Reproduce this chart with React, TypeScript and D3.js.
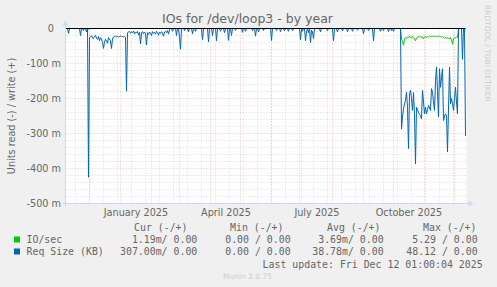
import React from "react";
import * as d3 from "d3";

// ---- time frame (Munin "by year": 400 days ending at last update) ----
const END = Date.UTC(2025, 11, 12, 1, 0, 4);
const DAY = 86400000;
const START = END - 400 * DAY;

// ---- series (daily values, milli-units, shown as read = negative) ----
const reqSizeRead = [
  0,0,14,0,0,0,0,0,0,0, 0,0,0,0,20,0,0,6,0,0,
  10,0,425,26,22,21,27,29,22,19, 28,31,23,35,26,30,40,57,38,31,
  36,42,26,30,35,57,30,24,23,22, 23,23,24,23,22,23,23,24,23,25,
  179,12,10,8,14,9,12,7,16,10, 13,8,18,11,44,12,9,15,10,14,
  47,12,17,10,13,20,9,14,11,16, 8,12,19,10,14,9,13,22,10,8,
  12,6,16,4,0,0,8,0,0,0, 20,0,0,25,59,0,0,0,6,0,
  0,0,10,0,0,0,15,0,0,8, 0,0,0,0,0,0,32,0,0,0,
  0,0,38,0,0,0,20,0,0,0, 35,0,0,0,8,0,0,0,12,0,
  0,0,34,0,0,20,0,0,0,6, 0,0,0,0,0,0,11,0,0,8,
  0,0,0,0,0,0,6,0,0,22, 0,0,10,0,0,0,0,6,0,0,
  0,0,0,0,0,34,0,0,0,0, 6,0,0,0,9,0,0,0,7,0,
  0,0,8,0,0,0,6,0,0,0, 0,0,0,0,32,0,8,0,0,35,
  10,0,12,0,40,5,10,29,0,0, 0,0,0,0,10,0,0,0,0,0,
  0,6,0,0,0,0,0,35,0,0, 0,10,0,0,0,0,7,0,0,0,
  0,9,0,0,0,0,8,0,0,0, 0,5,0,0,0,0,0,15,0,0,
  0,0,6,0,0,0,0,35,0,0, 0,0,0,0,8,0,0,6,0,0,
  0,0,9,0,0,6,0,8,0,0, 0,0,0,0,0,287,253,230,215,206,
  182,225,343,186,177,200,234,183,244,387, 225,232,240,245,249,258,177,210,244,225,
  244,232,220,227,234,172,182,210,234,149, 110,180,253,115,168,140,115,263,250,244,
  249,353,230,110,215,200,215,234,200,168, 210,244,0,0,0,0,88,0,0,307,
];

const ioRead = [
  0,0,0,0,0,0,0,0,0,0, 0,0,0,0,0,0,0,0,0,0,
  0,0,3,0,0,0,0,0,0,0, 0,0,0,0,0,0,0,0,0,0,
  0,0,0,0,0,0,0,0,0,0, 0,0,0,0,0,0,0,0,0,0,
  0,0,0,0,0,0,0,0,0,0, 0,0,0,0,0,0,0,0,0,0,
  0,0,0,0,0,0,0,0,0,0, 0,0,0,0,0,0,0,0,0,0,
  0,0,0,0,0,0,0,0,0,0, 0,0,0,0,0,0,0,0,0,0,
  0,0,0,0,0,0,0,0,0,0, 0,0,0,0,0,0,0,0,0,0,
  0,0,0,0,0,0,0,0,0,0, 0,0,0,0,0,0,0,0,0,0,
  0,0,0,0,0,0,0,0,0,0, 0,0,0,0,0,0,0,0,0,0,
  0,0,0,0,0,0,0,0,0,0, 0,0,0,0,0,0,0,0,0,0,
  0,0,0,0,0,0,0,0,0,0, 0,0,0,0,0,0,0,0,0,0,
  0,0,0,0,0,0,0,0,0,0, 0,0,0,0,0,0,0,0,0,0,
  0,0,0,0,0,0,0,0,0,0, 0,0,0,0,0,0,0,0,0,0,
  0,0,0,0,0,0,0,0,0,0, 0,0,0,0,0,0,0,0,0,0,
  0,0,0,0,0,0,0,0,0,0, 0,0,0,0,0,0,0,0,0,0,
  0,0,0,0,0,0,0,0,0,0, 0,0,0,0,0,0,0,0,0,0,
  0,0,0,0,0,0,0,0,0,0, 0,0,0,0,0,30,38,48,30,26,
  28,24,26,22,25,27,23,26,30,35, 28,24,22,25,23,26,24,30,25,22,
  26,23,24,22,23,23,22,23,22,23, 24,22,23,22,23,25,23,26,27,25,
  29,26,28,30,26,33,45,30,26,26, 25,25,0,0,0,0,0,0,0,1.19,
];

const yMajorTicks = [0, -100, -200, -300, -400, -500];
const xTickLabels = ["January 2025", "April 2025", "July 2025", "October 2025"];

const legendNames = ["IO/sec", "Req Size (KB)"];
const legendColors = ["#00CC00", "#0066B3"];
const legendHeaders = ["Cur (-/+)", "Min (-/+)", "Avg (-/+)", "Max (-/+)"];
const legendCur = ["1.19m/ 0.00", "307.00m/ 0.00"];
const legendMin = ["0.00 / 0.00", "0.00 / 0.00"];
const legendAvg = ["3.69m/ 0.00", "38.78m/ 0.00"];
const legendMax = ["5.29 / 0.00", "48.12 / 0.00"];

const TITLE = "IOs for /dev/loop3 - by year";
const Y_LABEL = "Units read (-) / write (+)";
const LAST_UPDATE = "Last update: Fri Dec 12 01:00:04 2025";

export default function App() {
  const W = 497;
  const H = 287;
  const x0 = 65.5, x1 = 465.5, yTop = 28.5, yBot = 203.5;
  const x = d3.scaleTime().domain([new Date(START), new Date(END)]).range([x0, x1]);
  const y = d3.scaleLinear().domain([-500, 0]).range([yBot, yTop]);

  const line = d3
    .line<number>()
    .x((_, i) => x(new Date(START + (i + 1) * DAY)))
    .y((d) => y(-d));

  const minorY = d3.range(0, -501, -20).filter((v) => v % 100 !== 0);
  const monthStarts = d3.utcMonth.range(new Date(START), new Date(END));
  const quarterStarts = d3.utcMonth.every(3)!.range(new Date(START), new Date(END));
  // bi-weekly Sunday minor grid
  const refSunday = Date.UTC(2025, 9, 5);
  const minorX: number[] = [];
  for (let t = refSunday; t > START; t -= 14 * DAY) minorX.push(t);
  for (let t = refSunday + 14 * DAY; t < END; t += 14 * DAY) minorX.push(t);

  const gridMinor = "rgba(143,143,143,0.32)";
  const gridMajor = "rgba(233,90,90,0.38)";
  const axisCol = "#CFD6F8";
  const font = "'DejaVu Sans', sans-serif";
  const mono = "'DejaVu Sans Mono', monospace";
  const textCol = "#666666";

  const valueEnds = [197.3, 290.6, 383.6, 477.6];
  const headerStarts = [134, 230, 327, 423];

  return (
    <svg
      width={W}
      height={H}
      style={{ position: "absolute", left: 0, top: 0, display: "block" }}
      xmlSpace="preserve"
    >
      <rect x={0} y={0} width={W} height={H} fill="#F0F0F0" />
      <rect x={x0} y={yTop - 0.5} width={x1 - x0 + 1} height={yBot - yTop} fill="#FFFFFF" />

      {/* minor grid */}
      {minorY.map((v) => (
        <line key={"my" + v} x1={x0} x2={x1 + 2} y1={y(v)} y2={y(v)} stroke={gridMinor} strokeDasharray="1,2" />
      ))}
      {minorX.map((t) => (
        <line key={"mx" + t} x1={Math.round(x(new Date(t))) + 0.5} x2={Math.round(x(new Date(t))) + 0.5} y1={yTop} y2={yBot} stroke={gridMinor} strokeDasharray="1,2" />
      ))}
      {/* major grid */}
      {yMajorTicks.filter((v) => v !== 0).map((v) => (
        <line key={"My" + v} x1={x0} x2={x1 + 2} y1={y(v)} y2={y(v)} stroke={gridMajor} strokeDasharray="1,2" />
      ))}
      {monthStarts.map((d) => (
        <line key={"Mx" + d.getTime()} x1={Math.round(x(d)) + 0.5} x2={Math.round(x(d)) + 0.5} y1={yTop} y2={yBot} stroke={gridMajor} strokeDasharray="1,2" />
      ))}

      {/* series */}
      <path d={line(ioRead) || ""} fill="none" stroke={legendColors[0]} strokeWidth={1} />
      <path d={line(reqSizeRead) || ""} fill="none" stroke={legendColors[1]} strokeWidth={1} />

      {/* zero rule */}
      <line x1={x0} x2={x1} y1={y(0)} y2={y(0)} stroke="#000000" strokeWidth={1} />

      {/* axes */}
      <line x1={x0 - 3} x2={x1 + 4} y1={yBot} y2={yBot} stroke={axisCol} />
      <path d={`M${x1 + 3},${yBot - 3} L${x1 + 8},${yBot} L${x1 + 3},${yBot + 3} Z`} fill={axisCol} />
      <line x1={x0} x2={x0} y1={yBot + 3} y2={yTop - 4} stroke={axisCol} />
      <path d={`M${x0 - 3},${yTop - 3} L${x0},${yTop - 8} L${x0 + 3},${yTop - 3} Z`} fill={axisCol} />

      {/* y tick labels */}
      {yMajorTicks.map((v) => (
        <text
          key={"yl" + v}
          x={v === 0 ? 54 : 61}
          y={y(v) + 3.5}
          textAnchor="end"
          fontFamily={font}
          fontSize={9.7}
          fill={textCol}
        >
          {v === 0 ? "0" : `${v} m`}
        </text>
      ))}

      {/* x tick labels (centered in month) */}
      {quarterStarts.map((d, i) => (
        <text
          key={"xl" + i}
          x={x(new Date(d.getTime() + 15.5 * DAY))}
          y={216}
          textAnchor="middle"
          fontFamily={font}
          fontSize={9.7}
          fill={textCol}
        >
          {xTickLabels[i]}
        </text>
      ))}

      {/* title */}
      <text x={247.5} y={23.2} textAnchor="middle" fontFamily={font} fontSize={12.5} fill={textCol}>
        {TITLE}
      </text>

      {/* y axis label */}
      <text
        transform={`translate(14.5,${(yTop + yBot) / 2}) rotate(-90)`}
        textAnchor="middle"
        fontFamily={font}
        fontSize={9.7}
        fill={textCol}
      >
        {Y_LABEL}
      </text>

      {/* rrdtool credit */}
      <text transform="translate(484.5,5) rotate(90)" fontFamily={font} fontSize={7.5} fill="#CCCCCC">
        RRDTOOL / TOBI OETIKER
      </text>

      {/* legend */}
      {legendHeaders.map((h, i) => (
        <text key={"lh" + i} x={headerStarts[i]} y={231} fontFamily={mono} fontSize={9.9} fill={textCol}>
          {h}
        </text>
      ))}
      {legendNames.map((name, r) => {
        const by = 243 + r * 12;
        const vals = [legendCur[r], legendMin[r], legendAvg[r], legendMax[r]];
        return (
          <g key={"lr" + r}>
            <rect x={14} y={by - 6.5} width={6} height={6} fill={legendColors[r]} />
            <text x={26.5} y={by} fontFamily={mono} fontSize={9.9} fill={textCol}>
              {name}
            </text>
            {vals.map((v, c) => (
              <text key={c} x={valueEnds[c]} y={by} textAnchor="end" fontFamily={mono} fontSize={9.9} fill={textCol}>
                {v}
              </text>
            ))}
          </g>
        );
      })}
      <text x={482.6} y={267.5} textAnchor="end" fontFamily={mono} fontSize={9.9} fill={textCol}>
        {LAST_UPDATE}
      </text>
      <text x={247.5} y={279} textAnchor="middle" fontFamily={font} fontSize={7.5} fill="#CCCCCC">
        Munin 2.0.75
      </text>
    </svg>
  );
}
